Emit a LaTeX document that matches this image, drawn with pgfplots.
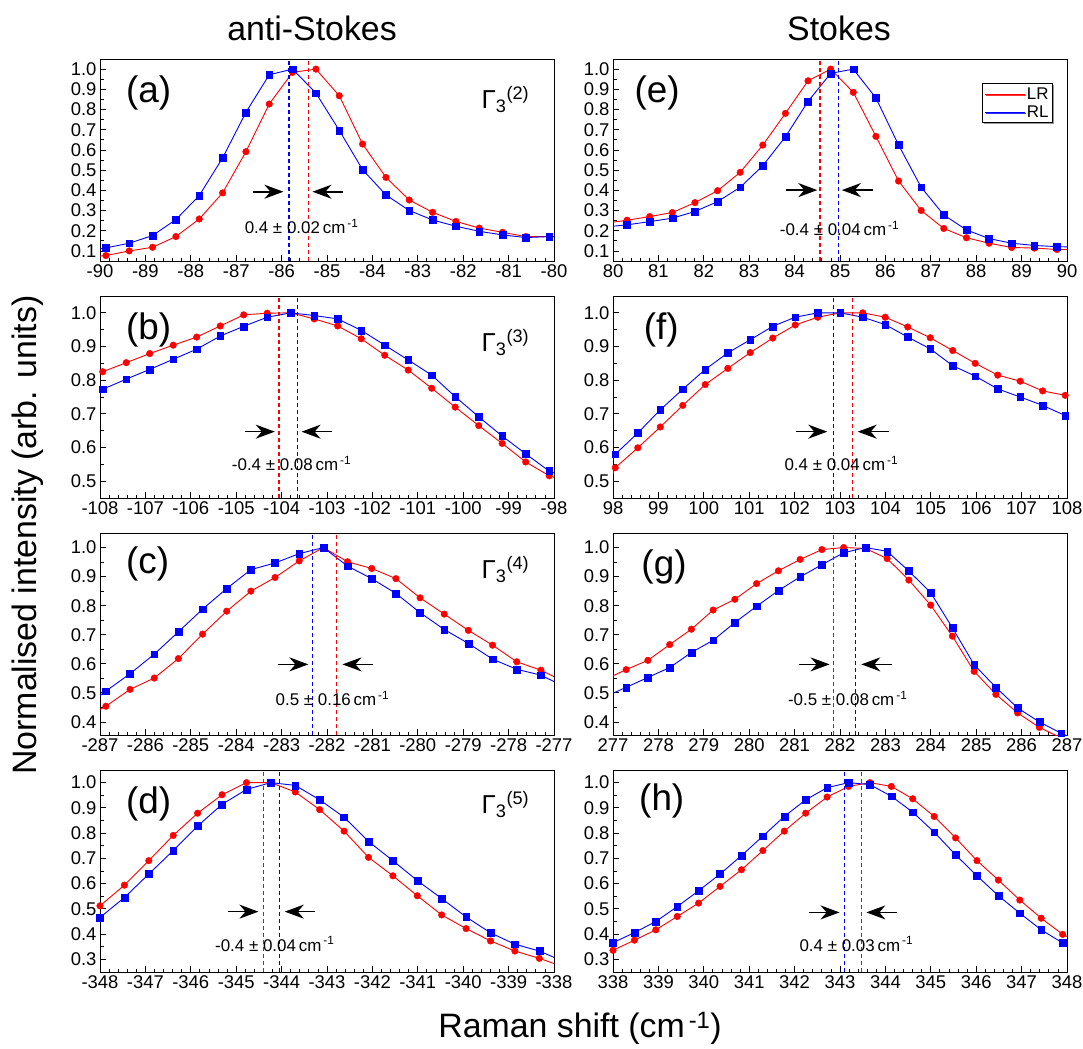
\documentclass[border=0pt]{standalone}
\usepackage{fontspec}
\setmainfont{Liberation Sans}
\usepackage{pgfplots}
\usepackage{pgfplotstable}
\pgfplotsset{compat=1.18}
\usetikzlibrary{arrows.meta,shadows}

\pgfplotstableread{
x r b
-90.01 0.074 0.110
-89.870 0.077 0.115
-89.356 0.100 0.138
-88.842 0.118 0.176
-88.328 0.171 0.255
-87.814 0.258 0.374
-87.300 0.387 0.560
-86.786 0.591 0.786
-86.272 0.827 0.972
-85.758 0.984 1.000
-85.244 1.000 0.881
-84.730 0.868 0.697
-84.216 0.629 0.502
-83.702 0.464 0.377
-83.188 0.352 0.300
-82.674 0.291 0.253
-82.160 0.246 0.222
-81.646 0.213 0.197
-81.132 0.192 0.179
-80.618 0.171 0.166
-80.104 0.171 0.171
-79.99 0.171 0.171
}\tA

\pgfplotstableread{
x r b
79.99 0.242 0.222
80.310 0.252 0.229
80.808 0.270 0.245
81.307 0.290 0.262
81.805 0.339 0.295
82.303 0.398 0.344
82.802 0.489 0.415
83.300 0.624 0.522
83.798 0.781 0.665
84.296 0.942 0.840
84.795 1.000 0.979
85.293 0.885 1.000
85.791 0.667 0.857
86.290 0.446 0.624
86.788 0.300 0.415
87.286 0.211 0.278
87.785 0.165 0.204
88.283 0.138 0.161
88.781 0.117 0.138
89.279 0.114 0.127
89.778 0.107 0.121
90.01 0.107 0.120
}\tE

\pgfplotstableread{
x r b
-108.01 0.820 0.767
-107.940 0.825 0.773
-107.422 0.852 0.803
-106.905 0.879 0.832
-106.387 0.904 0.862
-105.870 0.928 0.892
-105.352 0.961 0.931
-104.834 0.994 0.960
-104.317 0.999 0.987
-103.799 1.000 1.000
-103.282 0.982 0.992
-102.764 0.961 0.982
-102.246 0.923 0.948
-101.729 0.874 0.904
-101.211 0.830 0.860
-100.694 0.776 0.815
-100.176 0.720 0.751
-99.658 0.665 0.691
-99.141 0.612 0.634
-98.623 0.557 0.581
-98.106 0.516 0.530
-97.99 0.511 0.524
}\tB

\pgfplotstableread{
x r b
97.99 0.520 0.560
98.050 0.540 0.580
98.546 0.599 0.643
99.041 0.661 0.712
99.537 0.725 0.773
100.032 0.787 0.832
100.528 0.835 0.881
101.023 0.882 0.920
101.519 0.925 0.960
102.014 0.964 0.987
102.510 0.987 1.000
103.005 1.000 1.000
103.501 1.000 0.987
103.996 0.987 0.965
104.492 0.958 0.928
104.987 0.926 0.893
105.483 0.888 0.843
105.978 0.850 0.812
106.474 0.815 0.774
106.969 0.797 0.750
107.465 0.768 0.725
107.960 0.755 0.695
108.01 0.754 0.693
}\tF

\pgfplotstableread{
x r b
-287.01 0.442 0.490
-286.870 0.454 0.506
-286.338 0.512 0.566
-285.805 0.551 0.633
-285.273 0.618 0.710
-284.741 0.702 0.788
-284.209 0.781 0.859
-283.676 0.850 0.924
-283.144 0.897 0.947
-282.612 0.954 0.979
-282.079 1.000 1.000
-281.547 0.951 0.936
-281.015 0.928 0.893
-280.482 0.893 0.842
-279.950 0.827 0.776
-279.418 0.771 0.718
-278.886 0.715 0.670
-278.353 0.664 0.616
-277.821 0.607 0.581
-277.289 0.578 0.561
-276.99 0.555 0.538
}\tC

\pgfplotstableread{
x r b
276.99 0.558 0.498
277.290 0.580 0.519
277.769 0.612 0.553
278.248 0.666 0.587
278.727 0.719 0.639
279.206 0.785 0.681
279.685 0.822 0.742
280.164 0.876 0.798
280.643 0.920 0.852
281.122 0.959 0.899
281.601 0.993 0.941
282.080 1.000 0.982
282.559 0.997 1.000
283.038 0.962 0.987
283.517 0.888 0.919
283.996 0.802 0.845
284.475 0.695 0.724
284.954 0.574 0.597
285.433 0.495 0.519
285.912 0.431 0.448
286.391 0.381 0.400
286.870 0.345 0.361
287.01 0.335 0.352
}\tG

\pgfplotstableread{
x r b
-348.01 0.511 0.465
-348.000 0.512 0.466
-347.462 0.594 0.545
-346.925 0.691 0.638
-346.387 0.791 0.731
-345.850 0.879 0.828
-345.312 0.952 0.914
-344.774 1.000 0.973
-344.237 1.000 1.000
-343.699 0.963 0.989
-343.162 0.893 0.932
-342.624 0.808 0.863
-342.086 0.704 0.767
-341.549 0.631 0.691
-341.011 0.552 0.612
-340.474 0.476 0.541
-339.936 0.422 0.468
-339.398 0.373 0.405
-338.861 0.333 0.360
-338.323 0.304 0.333
-337.99 0.283 0.307
}\tD

\pgfplotstableread{
x r b
337.99 0.335 0.365
338.000 0.336 0.366
338.472 0.376 0.406
338.943 0.417 0.450
339.415 0.470 0.509
339.886 0.523 0.572
340.358 0.589 0.638
340.830 0.655 0.711
341.301 0.731 0.788
341.773 0.808 0.866
342.244 0.879 0.932
342.716 0.943 0.980
343.188 0.985 1.000
343.659 1.000 0.992
344.131 0.985 0.946
344.602 0.936 0.883
345.074 0.866 0.804
345.546 0.781 0.714
346.017 0.691 0.631
346.489 0.614 0.552
346.960 0.535 0.483
347.432 0.463 0.417
347.904 0.399 0.365
348.01 0.390 0.357
}\tH

\pgfplotsset{
  panel/.style={
    scale only axis, width=454bp, height=202bp, anchor=north west,
    axis line style={line width=0.9bp},
    tick pos=left, tick align=inside,
    major tick length=6bp, minor tick length=3.5bp,
    every tick/.style={black, line width=0.8bp},
    xtick distance=1, minor x tick num=4, minor y tick num=1,
    tick label style={font=\fontsize{18.5}{20}\selectfont},
    /pgf/number format/assume math mode=true,
    xticklabel style={/pgf/number format/fixed, /pgf/number format/precision=0},
    yticklabel style={/pgf/number format/fixed, /pgf/number format/fixed zerofill, /pgf/number format/precision=1},
  },
  LR/.style={color=red, mark=*, mark size=3.3bp, mark options={solid, fill=red, draw=red}},
  RL/.style={color=blue, mark=square*, mark size=3.4bp, mark options={solid, fill=blue, draw=blue}},
}
\tikzset{
  vline/.style={line width=1.3bp, dash pattern=on 4.5bp off 2.5bp},
  arr/.style={-{Stealth[length=19bp, width=14bp, inset=6bp]}, line width=1.6bp, black},
  ann/.style={font=\fontsize{17}{19}\selectfont},
  plab/.style={anchor=base west, font=\fontsize{37}{40}\selectfont},
  glab/.style={anchor=base west, font=\fontsize{26}{28}\selectfont},
}

\newcommand{\ser}[5]{%
  \addplot[#3, no markers, line width=0.9bp, forget plot] table[x=x, y=#2] {#1};
  \addplot[#3, only marks, forget plot, restrict x to domain=#4, restrict y to domain=#5] table[x=x, y=#2] {#1};
}
\newcommand{\cm}{\,cm\textsuperscript{\,-1}}
\newcommand{\Gam}[1]{Γ\textsubscript{3}\textsuperscript{(#1)}}

\begin{document}
\begin{tikzpicture}
\useasboundingbox (0bp,0bp) rectangle (1083bp,-1049bp);

% ---------------- (a)
\begin{axis}[panel, at={(100bp,-59bp)}, xmin=-90, xmax=-80, ymin=0.05, ymax=1.05,
  ytick={0.1,0.2,0.3,0.4,0.5,0.6,0.7,0.8,0.9,1.0}]
\ser{\tA}{r}{LR}{-90:-80}{0.05:1.1}
\ser{\tA}{b}{RL}{-90:-80}{0.05:1.1}
\draw[blue, vline] (axis cs:-85.84,0.05) -- (axis cs:-85.84,1.05);
\draw[red, vline] (axis cs:-85.41,0.05) -- (axis cs:-85.41,1.05);
\draw[arr] (axis cs:-86.62,0.393) -- (axis cs:-85.96,0.393);
\draw[arr] (axis cs:-84.65,0.393) -- (axis cs:-85.32,0.393);
\node[ann] at (axis cs:-85.56,0.220) {0.4 ± 0.02\cm};
\node[plab] at (rel axis cs:0.05,0.787) {(a)};
\node[glab] at (rel axis cs:0.833,0.757) {\Gam{2}};
\end{axis}

% ---------------- (e)
\begin{axis}[panel, at={(613bp,-59bp)}, xmin=80, xmax=90, ymin=0.05, ymax=1.05,
  ytick={0.1,0.2,0.3,0.4,0.5,0.6,0.7,0.8,0.9,1.0},
  legend image code/.code={\draw[#1] (0bp,0bp) -- (40bp,0bp);},
  legend cell align=left,
  legend style={at={(0.969,0.881)}, anchor=north east, draw=black, line width=0.7bp, fill=white,
    font=\fontsize{17}{19}\selectfont, inner xsep=2bp, inner ysep=2bp, row sep=1bp,
    drop shadow={shadow xshift=1.5bp, shadow yshift=-1.5bp, opacity=0.8}}]
\addlegendimage{red, line width=0.9bp}
\addlegendentry{LR}
\addlegendimage{blue, line width=0.9bp}
\addlegendentry{RL}
\ser{\tE}{r}{LR}{80:90}{0.05:1.1}
\ser{\tE}{b}{RL}{80:90}{0.05:1.1}
\draw[red, vline] (axis cs:84.56,0.05) -- (axis cs:84.56,1.05);
\draw[blue, vline] (axis cs:84.97,0.05) -- (axis cs:84.97,1.05);
\draw[arr] (axis cs:83.82,0.401) -- (axis cs:84.50,0.401);
\draw[arr] (axis cs:85.72,0.401) -- (axis cs:85.04,0.401);
\node[ann] at (axis cs:84.99,0.212) {-0.4 ± 0.04\cm};
\node[plab] at (rel axis cs:0.04,0.787) {(e)};
\end{axis}

% ---------------- (b)
\begin{axis}[panel, at={(100bp,-296bp)}, xmin=-108, xmax=-98, ymin=0.45, ymax=1.05,
  ytick={0.5,0.6,0.7,0.8,0.9,1.0}]
\ser{\tB}{r}{LR}{-108:-98}{0.45:1.1}
\ser{\tB}{b}{RL}{-108:-98}{0.45:1.1}
\draw[red, vline] (axis cs:-104.06,0.45) -- (axis cs:-104.06,1.05);
\draw[blue, vline] (axis cs:-103.65,0.45) -- (axis cs:-103.65,1.05);
\draw[arr] (axis cs:-104.81,0.647) -- (axis cs:-104.15,0.647);
\draw[arr] (axis cs:-102.90,0.647) -- (axis cs:-103.56,0.647);
\node[ann] at (axis cs:-103.78,0.553) {-0.4 ± 0.08\cm};
\node[plab] at (rel axis cs:0.05,0.787) {(b)};
\node[glab] at (rel axis cs:0.833,0.724) {\Gam{3}};
\end{axis}

% ---------------- (f)
\begin{axis}[panel, at={(613bp,-296bp)}, xmin=98, xmax=108, ymin=0.45, ymax=1.05,
  ytick={0.5,0.6,0.7,0.8,0.9,1.0}]
\ser{\tF}{r}{LR}{98:108}{0.45:1.1}
\ser{\tF}{b}{RL}{98:108}{0.45:1.1}
\draw[blue, vline] (axis cs:102.86,0.45) -- (axis cs:102.86,1.05);
\draw[red, vline] (axis cs:103.27,0.45) -- (axis cs:103.27,1.05);
\draw[arr] (axis cs:102.04,0.647) -- (axis cs:102.72,0.647);
\draw[arr] (axis cs:104.07,0.647) -- (axis cs:103.39,0.647);
\node[ann] at (axis cs:103.03,0.553) {0.4 ± 0.04\cm};
\node[plab] at (rel axis cs:0.06,0.787) {(f)};
\end{axis}

% ---------------- (c)
\begin{axis}[panel, at={(100bp,-533bp)}, xmin=-287, xmax=-277, ymin=0.355, ymax=1.05,
  ytick={0.4,0.5,0.6,0.7,0.8,0.9,1.0}]
\ser{\tC}{r}{LR}{-287:-277}{0.355:1.1}
\ser{\tC}{b}{RL}{-287:-277}{0.355:1.1}
\draw[blue, vline] (axis cs:-282.32,0.355) -- (axis cs:-282.32,1.05);
\draw[red, vline] (axis cs:-281.79,0.355) -- (axis cs:-281.79,1.05);
\draw[arr] (axis cs:-283.08,0.598) -- (axis cs:-282.41,0.598);
\draw[arr] (axis cs:-280.99,0.598) -- (axis cs:-281.66,0.598);
\node[ann] at (axis cs:-281.88,0.481) {0.5 ± 0.16\cm};
\node[plab] at (rel axis cs:0.05,0.800) {(c)};
\node[glab] at (rel axis cs:0.833,0.776) {\Gam{4}};
\end{axis}

% ---------------- (g)
\begin{axis}[panel, at={(613bp,-533bp)}, xmin=277, xmax=287, ymin=0.355, ymax=1.05,
  ytick={0.4,0.5,0.6,0.7,0.8,0.9,1.0}]
\ser{\tG}{r}{LR}{277:287}{0.355:1.1}
\ser{\tG}{b}{RL}{277:287}{0.355:1.1}
\draw[red, vline] (axis cs:281.86,0.355) -- (axis cs:281.86,1.05);
\draw[blue, vline] (axis cs:282.34,0.355) -- (axis cs:282.34,1.05);
\draw[arr] (axis cs:281.10,0.598) -- (axis cs:281.77,0.598);
\draw[arr] (axis cs:283.15,0.598) -- (axis cs:282.47,0.598);
\node[ann] at (axis cs:282.17,0.481) {-0.5 ± 0.08\cm};
\node[plab] at (rel axis cs:0.055,0.787) {(g)};
\end{axis}

% ---------------- (d)
\begin{axis}[panel, at={(100bp,-770bp)}, xmin=-348, xmax=-338, ymin=0.25, ymax=1.05,
  ytick={0.3,0.4,0.5,0.6,0.7,0.8,0.9,1.0}]
\ser{\tD}{r}{LR}{-348:-338}{0.25:1.1}
\ser{\tD}{b}{RL}{-348:-338}{0.25:1.1}
\draw[red, vline] (axis cs:-344.40,0.25) -- (axis cs:-344.40,1.05);
\draw[blue, vline] (axis cs:-344.05,0.25) -- (axis cs:-344.05,1.05);
\draw[arr] (axis cs:-345.18,0.489) -- (axis cs:-344.51,0.489);
\draw[arr] (axis cs:-343.26,0.489) -- (axis cs:-343.93,0.489);
\node[ann] at (axis cs:-344.15,0.361) {-0.4 ± 0.04\cm};
\node[plab] at (rel axis cs:0.05,0.787) {(d)};
\node[glab] at (rel axis cs:0.833,0.786) {\Gam{5}};
\end{axis}

% ---------------- (h)
\begin{axis}[panel, at={(613bp,-770bp)}, xmin=338, xmax=348, ymin=0.25, ymax=1.05,
  ytick={0.3,0.4,0.5,0.6,0.7,0.8,0.9,1.0}]
\ser{\tH}{r}{LR}{338:348}{0.25:1.1}
\ser{\tH}{b}{RL}{338:348}{0.25:1.1}
\draw[blue, vline] (axis cs:343.10,0.25) -- (axis cs:343.10,1.05);
\draw[red, vline] (axis cs:343.47,0.25) -- (axis cs:343.47,1.05);
\draw[arr] (axis cs:342.32,0.486) -- (axis cs:342.99,0.486);
\draw[arr] (axis cs:344.25,0.486) -- (axis cs:343.58,0.486);
\node[ann] at (axis cs:343.36,0.361) {0.4 ± 0.03\cm};
\node[plab] at (rel axis cs:0.05,0.800) {(h)};
\end{axis}

% titles and axis labels
\node[font=\fontsize{34}{38}\selectfont] at (312bp,-28bp) {anti-Stokes};
\node[font=\fontsize{34}{38}\selectfont] at (839bp,-28bp) {Stokes};
\node[font=\fontsize{34}{38}\selectfont, rotate=90] at (28bp,-535bp) {Normalised intensity (arb. units)};
\node[font=\fontsize{34}{38}\selectfont] at (580bp,-1028bp) {Raman shift (cm\textsuperscript{\,-1})};
\end{tikzpicture}
\end{document}
